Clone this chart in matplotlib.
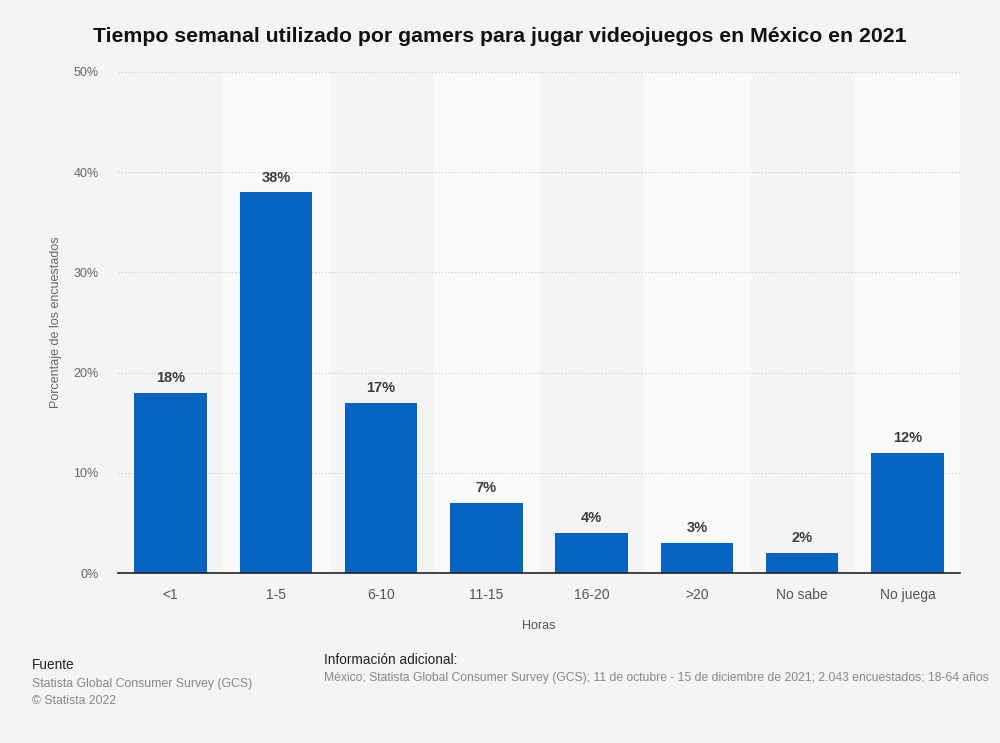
import matplotlib.pyplot as plt

categories = ["<1", "1-5", "6-10", "11-15", "16-20", ">20", "No sabe", "No juega"]
values = [18, 38, 17, 7, 4, 3, 2, 12]
yticks = [0, 10, 20, 30, 40, 50]

bg = "#f4f4f4"
fig = plt.figure(figsize=(10, 7.43), dpi=100, facecolor=bg)
ax = fig.add_axes([0.118, 0.2288, 0.842, 0.6743])
ax.set_facecolor(bg)

x = range(len(categories))
for i in x:
    if i % 2 == 1:
        ax.axvspan(i - 0.5, i + 0.5, color="#fafafa", zorder=0)

for t in yticks[1:]:
    ax.axhline(t, color="#c8c8c8", linestyle=(0, (1, 2)), linewidth=0.8, zorder=1)

bars = ax.bar(x, values, width=0.69, color="#0563c1", zorder=2)
for b, v in zip(bars, values):
    ax.text(b.get_x() + b.get_width() / 2, v + 0.75, f"{v}%", ha="center", va="bottom",
            fontsize=10.5, fontweight="bold", color="#3c3c3c", family="Liberation Sans")

ax.set_xlim(-0.5, len(categories) - 0.5)
ax.set_ylim(0, 50)
ax.set_yticks(yticks)
ax.set_yticklabels([f"{t}%" for t in yticks], fontsize=9, color="#666666", family="Liberation Sans")
ax.set_xticks(list(x))
ax.set_xticklabels(categories, fontsize=10, color="#555555", family="Liberation Sans")
ax.tick_params(axis="both", length=0)
ax.tick_params(axis="x", pad=11)
ax.tick_params(axis="y", pad=14)
for s in ["top", "right", "left"]:
    ax.spines[s].set_visible(False)
ax.spines["bottom"].set_color("#222222")
ax.spines["bottom"].set_linewidth(1.2)

ax.set_xlabel("Horas", fontsize=9, color="#555555", family="Liberation Sans", labelpad=13)
ax.set_ylabel("Porcentaje de los encuestados", fontsize=9, color="#666666",
              family="Liberation Sans", labelpad=8)

fig.text(0.5, 0.951, "Tiempo semanal utilizado por gamers para jugar videojuegos en México en 2021",
         ha="center", va="center", fontsize=15.3, fontweight="bold", color="#111111",
         family="Liberation Sans")

fig.text(0.032, 0.100, "Fuente", fontsize=9.8, color="#222222", family="Liberation Sans")
fig.text(0.032, 0.076, "Statista Global Consumer Survey (GCS)", fontsize=8.8, color="#888888",
         family="Liberation Sans")
fig.text(0.032, 0.053, "© Statista 2022", fontsize=8.8, color="#888888", family="Liberation Sans")
fig.text(0.324, 0.106, "Información adicional:", fontsize=9.8, color="#222222", family="Liberation Sans")
fig.text(0.324, 0.083,
         "México; Statista Global Consumer Survey (GCS); 11 de octubre - 15 de diciembre de 2021; 2.043 encuestados; 18-64 años",
         fontsize=8.7, color="#888888", family="Liberation Sans")

fig.savefig("out.png", dpi=100, facecolor=bg)
